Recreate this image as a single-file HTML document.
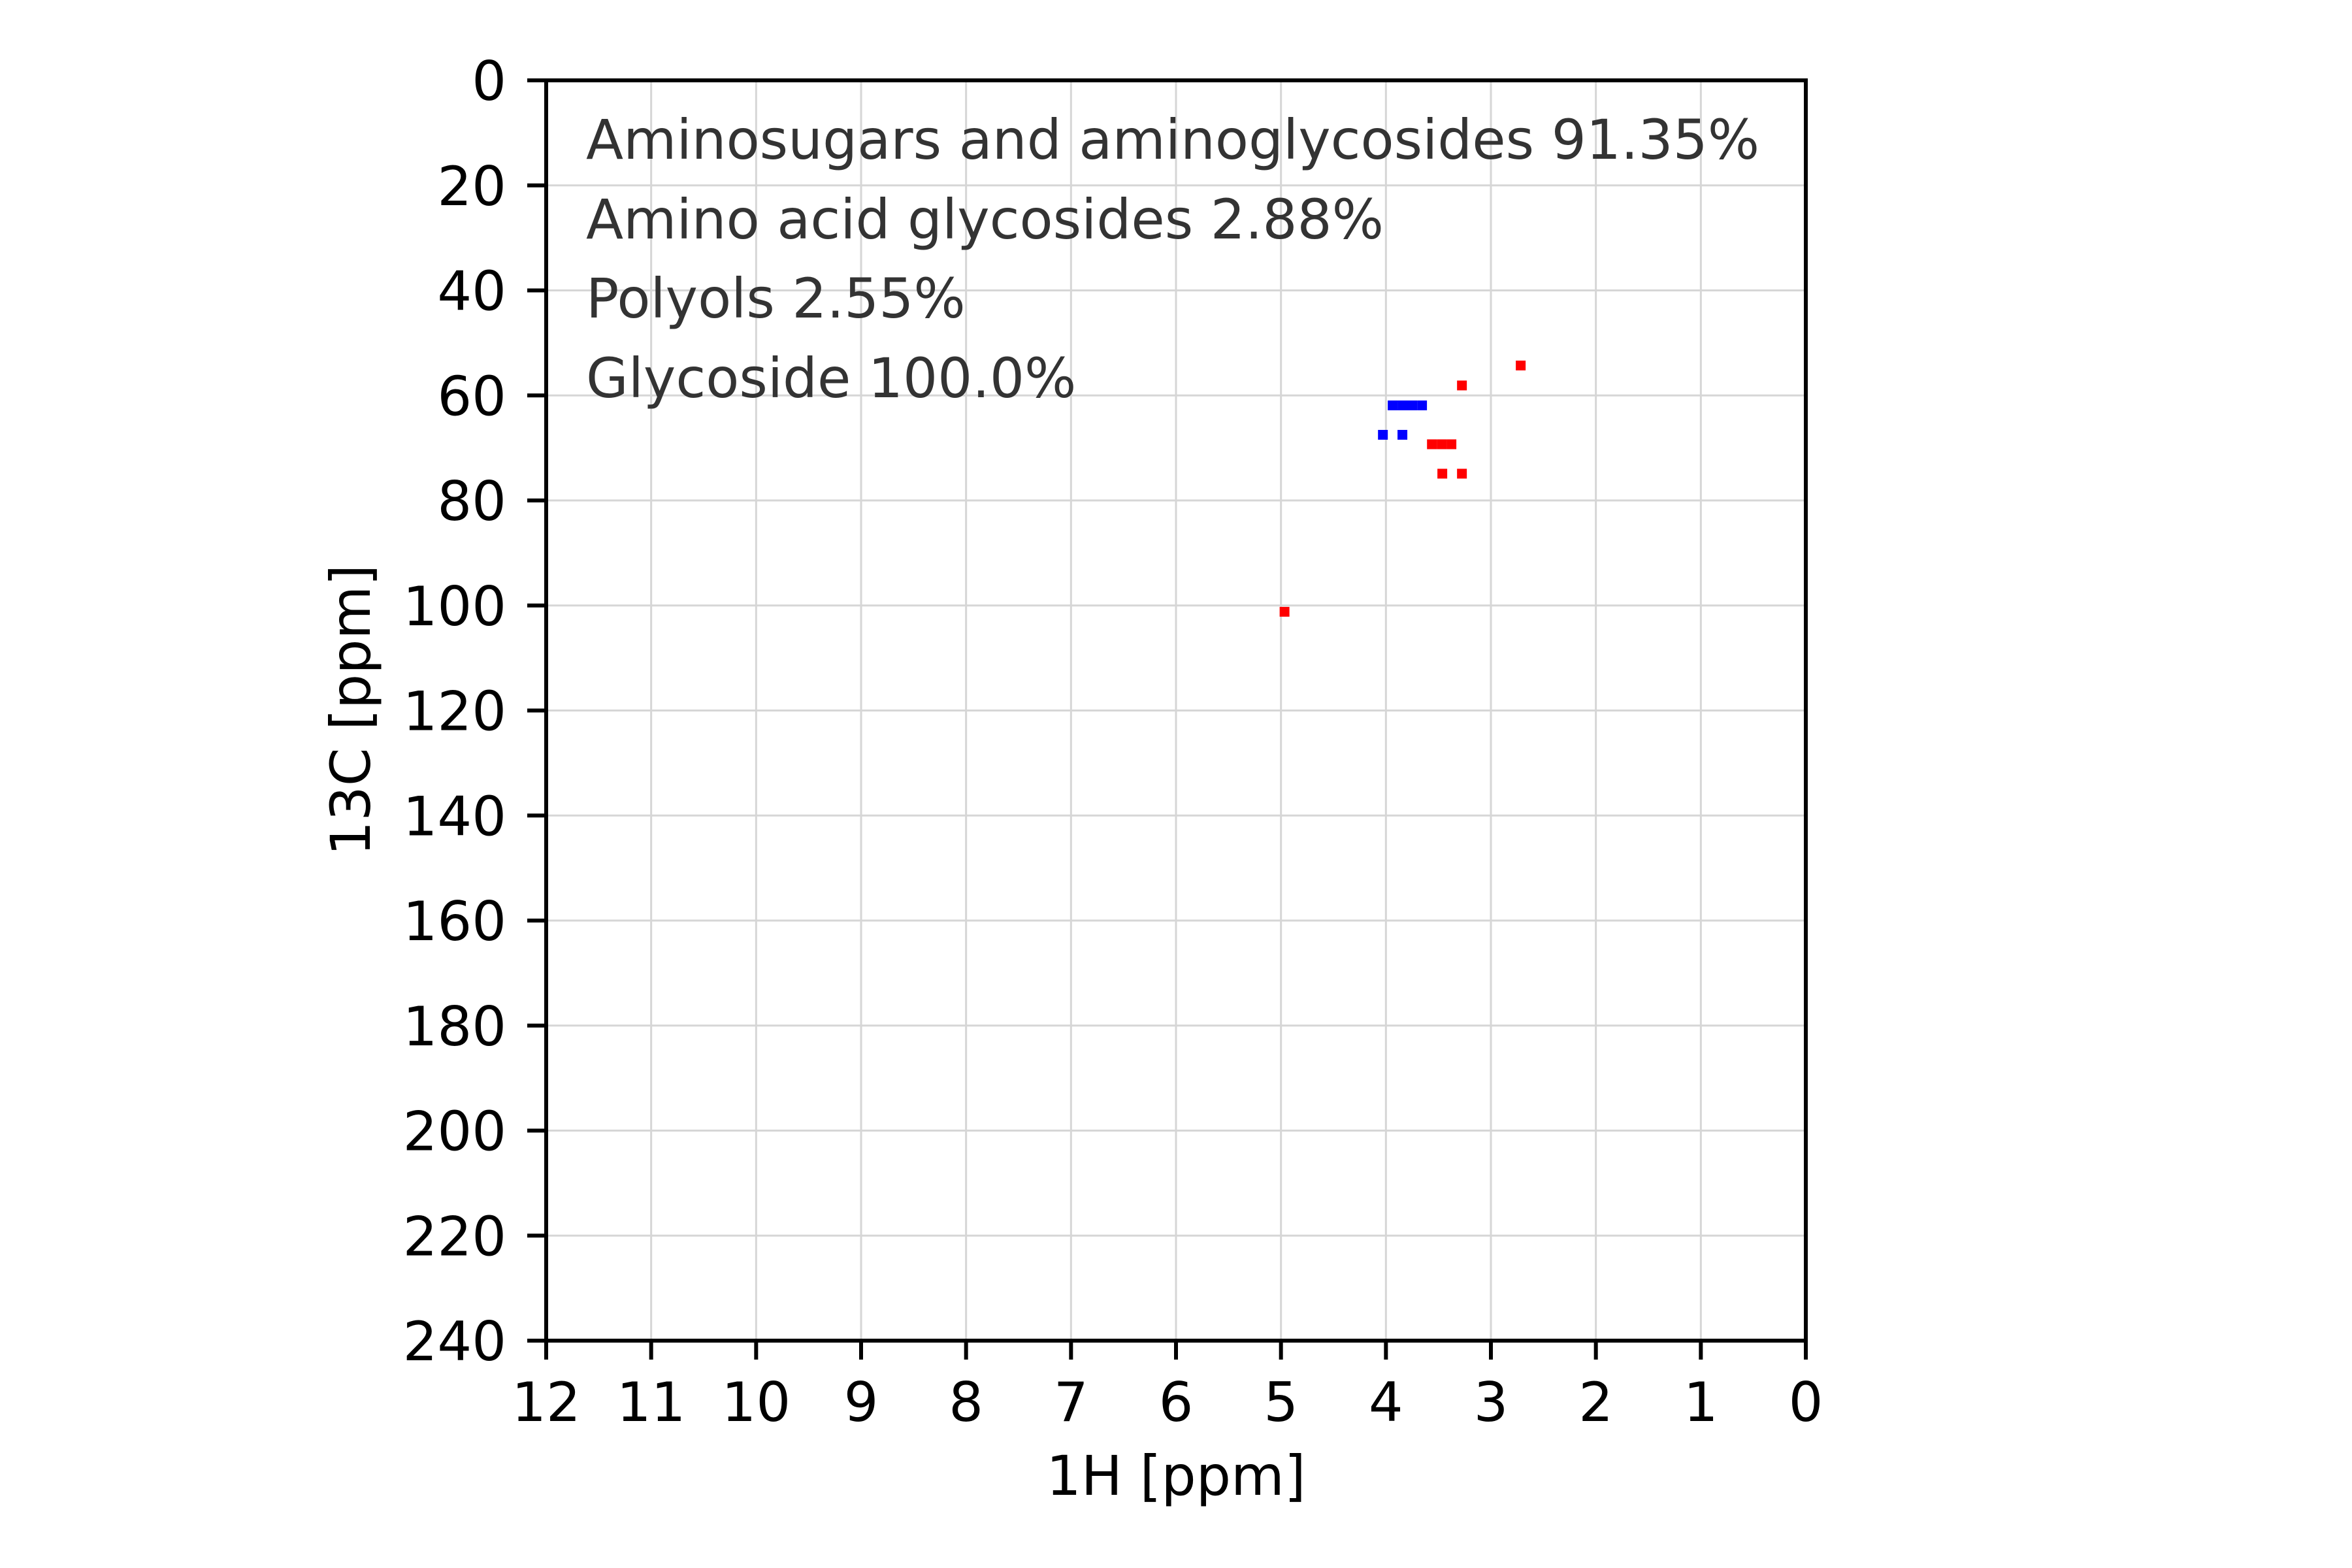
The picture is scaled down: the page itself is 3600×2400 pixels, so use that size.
<!DOCTYPE html>
<html><head><meta charset="utf-8"><style>
html,body{margin:0;padding:0;background:#fff;}
svg{display:block;font-family:"DejaVu Sans","Liberation Sans",sans-serif;}
</style></head><body>
<svg id="chart" width="3600" height="2400" viewBox="0 0 3600 2400" xmlns="http://www.w3.org/2000/svg">
<rect width="3600" height="2400" fill="#fff"/>
<g id="grid"></g>
<g id="marks"></g>
<g id="axes"></g>
<g font-size="83.5" fill="#333">
<text x="897" y="243">Aminosugars and aminoglycosides 91.35%</text>
<text x="897" y="365">Amino acid glycosides 2.88%</text>
<text x="897" y="486">Polyols 2.55%</text>
<text x="897" y="608">Glycoside 100.0%</text>
</g>
<text x="1800" y="2288" font-size="84" text-anchor="middle">1H [ppm]</text>
<text x="0" y="0" font-size="84" text-anchor="middle" transform="translate(566,1087) rotate(-90)">13C [ppm]</text>
</svg>
<script>
const xTicks = [12,11,10,9,8,7,6,5,4,3,2,1,0];
const yTicks = [0,20,40,60,80,100,120,140,160,180,200,220,240];
const blueH = [3.936,3.843,3.750,3.656,4.029,3.843];
const blueC = [61.9,61.9,61.9,61.9,67.5,67.5];
const redH = [2.716,3.276,3.562,3.469,3.376,3.463,3.276,4.966];
const redC = [54.3,58.1,69.3,69.3,69.3,74.9,74.9,101.2];

const L=836,R=2764,T=123,B=2052;
const xs = h => R - (h/12)*(R-L);
const ys = c => T + (c/240)*(B-T);
const NS='http://www.w3.org/2000/svg';
function mk(tag, attrs, parent){const e=document.createElementNS(NS,tag);for(const k in attrs)e.setAttribute(k,attrs[k]);parent.appendChild(e);return e;}
const grid=document.getElementById('grid'), axes=document.getElementById('axes'), marks=document.getElementById('marks');
xTicks.forEach(t=>{
  const x=xs(t);
  const g=mk('line',{x1:x,x2:x,y1:T,y2:B,stroke:'#d6d6d6','stroke-width':3},grid);
  
  
  const tk=mk('line',{x1:x,x2:x,y1:B,y2:B+29,stroke:'#000','stroke-width':6},axes);
  
  
  const lb=mk('text',{x:x,y:2175,'font-size':83,'text-anchor':'middle'},axes);
  lb.textContent=t;
  
  
});
yTicks.forEach(t=>{
  const y=ys(t);
  const g=mk('line',{x1:L,x2:R,y1:y,y2:y,stroke:'#d6d6d6','stroke-width':3},grid);
  
  
  const tk=mk('line',{x1:L-29,x2:L,y1:y,y2:y,stroke:'#000','stroke-width':6},axes);
  
  
  const lb=mk('text',{x:775,y:y+30,'font-size':83,'text-anchor':'end'},axes);
  lb.textContent=t;
  
  
});
function drawPts(H,C,color,name){
  for(let i=0;i<H.length;i++){
    const r=mk('rect',{x:xs(H[i])-7.5,y:ys(C[i])-7.5,width:15,height:15,fill:color},marks);
    
    
  }
}
drawPts(blueH,blueC,'#0000ff','peak-blue');
drawPts(redH,redC,'#ff0000','peak-red');
const frame=mk('rect',{x:L,y:T,width:R-L,height:B-T,fill:'none',stroke:'#000','stroke-width':6},axes);


</script>
</body></html>
